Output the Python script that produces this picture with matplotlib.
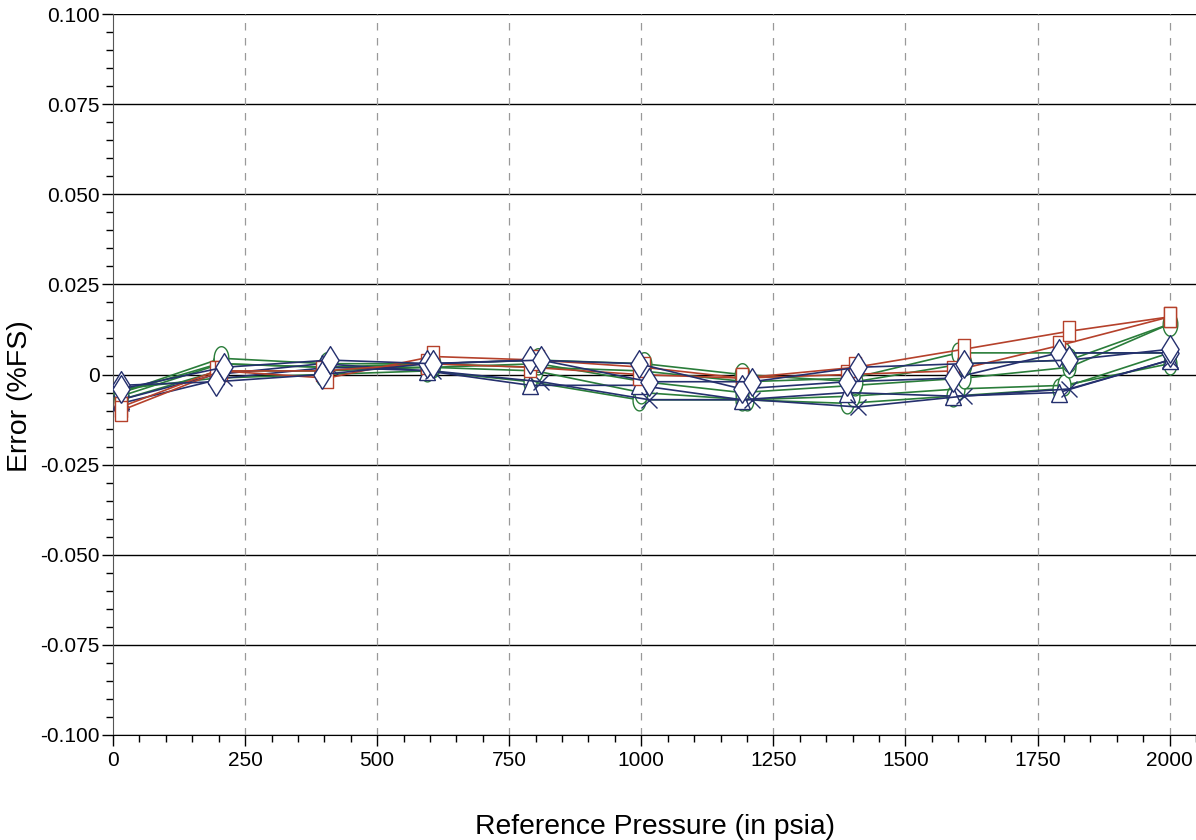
import matplotlib as mpl
import matplotlib.pyplot as plt
import numpy as np
from matplotlib.ticker import MultipleLocator

mpl.use('Agg')
plt.rcParams['font.family'] = ['Liberation Sans', 'DejaVu Sans']

# Reference pressures (psia) for each run
p_up = [15, 205, 405, 605, 805, 1005, 1190, 1405, 1610, 1810, 2000]
p_dn = [15, 195, 395, 595, 790, 995, 1190, 1390, 1590, 1790, 2000]
p_mid = [15, 200, 400, 600, 800, 1000, 1200, 1400, 1600, 1800, 2000]
p_n2 = [15, 210, 410, 605, 810, 1015, 1210, 1410, 1610, 1810, 2000]

# Error (%FS) per series
red_a = [-0.010, 0.001, -0.001, 0.005, 0.004, 0.002, -0.001, 0.002, 0.007, 0.012, 0.016]
red_b = [-0.009, 0.001, 0.001, 0.003, 0.002, 0.000, -0.001, 0.000, 0.001, 0.008, 0.016]
green_1 = [-0.005, 0.0045, 0.003, 0.003, 0.004, 0.003, 0.000, -0.002, 0.003, 0.004, 0.014]
green_2 = [-0.006, 0.003, 0.002, 0.002, 0.003, -0.002, -0.005, -0.003, -0.001, 0.002, 0.014]
green_3 = [-0.007, 0.001, 0.001, 0.002, 0.001, -0.005, -0.007, -0.006, -0.004, -0.003, 0.003]
green_4 = [-0.004, -0.001, 0.000, 0.001, -0.002, -0.007, -0.007, -0.008, -0.006, -0.004, 0.006]
green_5 = [-0.005, 0.003, 0.002, 0.003, 0.002, 0.001, -0.002, -0.001, 0.006, 0.006, 0.006]
navy_d1 = [-0.003, -0.002, 0.000, 0.003, 0.004, 0.003, -0.004, -0.002, -0.001, 0.006, 0.006]
navy_d2 = [-0.004, 0.002, 0.004, 0.003, 0.004, -0.002, -0.002, 0.002, 0.003, 0.004, 0.007]
navy_x = [-0.008, -0.001, 0.002, 0.001, -0.002, -0.007, -0.007, -0.009, -0.006, -0.004, 0.004]
navy_t = [-0.007, 0.000, 0.003, 0.001, -0.003, -0.003, -0.007, -0.005, -0.006, -0.005, 0.004]

RED = '#b5412b'
GREEN = '#2a7d3a'
NAVY = '#25306e'

# tall marker shapes
tall_square = [(-0.6, -1), (0.6, -1), (0.6, 1), (-0.6, 1), (-0.6, -1)]
t = np.linspace(0, 2 * np.pi, 40)
tall_ellipse = list(zip(0.62 * np.cos(t), np.sin(t)))
tall_diamond = [(0, -1), (0.62, 0), (0, 1), (-0.62, 0), (0, -1)]
tall_tri = [(-0.7, -0.8), (0.7, -0.8), (0, 0.8), (-0.7, -0.8)]

series = [
    (p_mid, green_5, GREEN, tall_ellipse, 15),
    (p_dn, green_4, GREEN, tall_ellipse, 15),
    (p_mid, green_3, GREEN, tall_ellipse, 15),
    (p_up, green_2, GREEN, tall_ellipse, 15),
    (p_up, green_1, GREEN, tall_ellipse, 17),
    (p_dn, navy_t, NAVY, tall_tri, 13),
    (p_n2, navy_x, NAVY, 'x', 11),
    (p_dn, red_b, RED, tall_square, 15),
    (p_up, red_a, RED, tall_square, 15),
    (p_dn, navy_d1, NAVY, tall_diamond, 20),
    (p_n2, navy_d2, NAVY, tall_diamond, 20),
]

fig = plt.figure(figsize=(11.96, 8.4), dpi=100)
ax = fig.add_axes([0.0945, 0.125, 0.9055, 0.8583])

for i in np.arange(-0.1, 0.1001, 0.025):
    ax.axhline(i, color='black', linewidth=1.0, zorder=1)
for xv in range(250, 2001, 250):
    ax.axvline(xv, color='#999999', linewidth=0.9, linestyle=(0, (6, 6)), zorder=1)

for px, ys, col, mk, ms in series:
    ax.plot(px, ys, color=col, linewidth=1.2, marker=mk, markersize=ms,
            markerfacecolor='white', markeredgecolor=col, markeredgewidth=1.0, zorder=3)

ax.set_xlim(0, 2050)
ax.set_ylim(-0.1, 0.1)
ax.xaxis.set_major_locator(MultipleLocator(250))
ax.xaxis.set_minor_locator(MultipleLocator(50))
ax.yaxis.set_major_locator(MultipleLocator(0.025))
ax.yaxis.set_minor_locator(MultipleLocator(0.005))
ax.yaxis.set_major_formatter(mpl.ticker.FuncFormatter(
    lambda y, p: '0' if abs(y) < 1e-9 else '{0:.3f}'.format(y)))

ax.spines['top'].set_visible(False)
ax.spines['right'].set_visible(False)
ax.spines['left'].set_color('#555555')
ax.spines['bottom'].set_color('black')
ax.tick_params(which='major', length=8, width=1, labelsize=15, direction='out')
ax.tick_params(axis='y', which='major', pad=1.5)
ax.tick_params(which='minor', length=5, width=1, direction='out')

ax.set_xlabel('Reference Pressure (in psia)', fontsize=20.3, labelpad=32)
ax.set_ylabel('Error (%FS)', fontsize=20.5)
ax.yaxis.set_label_coords(-0.074, 0.47)

fig.savefig('out.png', dpi=100)
